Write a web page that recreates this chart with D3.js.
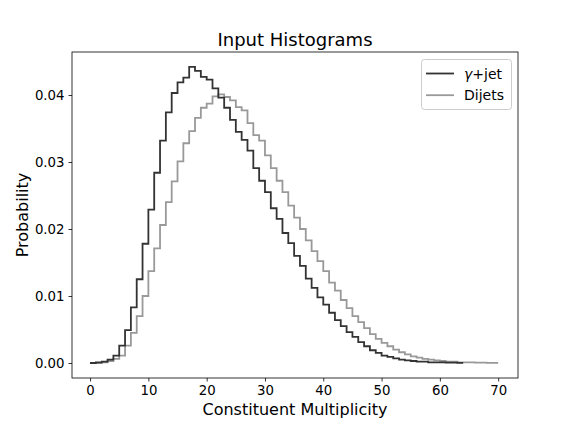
<!DOCTYPE html>
<html>
<head>
<meta charset="utf-8">
<title>Input Histograms</title>
<script src="https://d3js.org/d3.v7.min.js"></script>
<style>
  body { margin: 0; background: #fff; }
  svg text { font-family: "DejaVu Sans", sans-serif; fill: #000; }
</style>
</head>
<body>
<svg id="chart"></svg>
<script>
// bin edges 0..70, one value per bin
var binEdges = d3.range(0, 71);

var gammaJet = [
  0.0000, 0.0001, 0.0002, 0.0005, 0.0011, 0.0026, 0.0049, 0.0083, 0.0125, 0.0178,
  0.0229, 0.0284, 0.0332, 0.0374, 0.0403, 0.0419, 0.0426, 0.0442, 0.0436, 0.0427,
  0.0423, 0.0410, 0.0396, 0.0381, 0.0363, 0.0345, 0.0333, 0.0317, 0.0291, 0.0272,
  0.0255, 0.0231, 0.0215, 0.0194, 0.0179, 0.0160, 0.0145, 0.0126, 0.0112, 0.0098,
  0.0087, 0.0075, 0.0064, 0.0055, 0.0046, 0.0039, 0.0031, 0.0025, 0.0019, 0.0015,
  0.0011, 0.0009, 0.0007, 0.0005, 0.0004, 0.0003, 0.0002, 0.0002, 0.0001, 0.0001,
  0.0001, 0.00005, 0.00005, 0.00003
];

var dijets = [
  0.0000, 0.0000, 0.0001, 0.0003, 0.0006, 0.0011, 0.0026, 0.0045, 0.0070, 0.0100,
  0.0137, 0.0171, 0.0206, 0.0240, 0.0271, 0.0301, 0.0328, 0.0346, 0.0366, 0.0381,
  0.0387, 0.0398, 0.0401, 0.0397, 0.0392, 0.0382, 0.0377, 0.0358, 0.0340, 0.0332,
  0.0310, 0.0291, 0.0272, 0.0255, 0.0235, 0.0217, 0.0200, 0.0183, 0.0167, 0.0152,
  0.0137, 0.0120, 0.0108, 0.0094, 0.0082, 0.0070, 0.0061, 0.0052, 0.0043, 0.0036,
  0.0030, 0.0025, 0.0020, 0.0016, 0.0013, 0.0010, 0.0008, 0.0006, 0.0005, 0.0004,
  0.0003, 0.0002, 0.0002, 0.0001, 0.0001, 0.0001, 0.00005, 0.00005, 0.00003, 0.00002
];

var xTicks = [0, 10, 20, 30, 40, 50, 60, 70];
var yTicks = [0.00, 0.01, 0.02, 0.03, 0.04];

var svgWidth = 576, svgHeight = 432;
var plotLeft = 72, plotRight = 518, plotTop = 52, plotBottom = 378;

var svg = d3.select('#chart')
    .attr('width', svgWidth)
    .attr('height', svgHeight);

var xScale = d3.scaleLinear().domain([-3.1, 73.4]).range([plotLeft, plotRight]);
var yScale = d3.scaleLinear().domain([-0.00224, 0.04642]).range([plotBottom, plotTop]);

// step path: horizontal across each bin, vertical at each edge
function stepPoints(vals) {
    var pts = [];
    vals.forEach(function(v, i) {
        pts.push([binEdges[i], v]);
        pts.push([binEdges[i + 1], v]);
    });
    return pts;
}

var line = d3.line()
    .x(function(d) { return xScale(d[0]); })
    .y(function(d) { return yScale(d[1]); });

var series = [
    { name: 'jet', values: gammaJet, color: '#333333' },
    { name: 'Dijets', values: dijets, color: '#999999' }
];

// draw dijets first so gamma+jet lies on top
[series[1], series[0]].forEach(function(s) {
    svg.append('path')
        .attr('d', line(stepPoints(s.values)))
        .attr('fill', 'none')
        .attr('stroke', s.color)
        .attr('stroke-width', 1.8)
        .attr('stroke-linejoin', 'miter');
});

// axes
var xAxis = d3.axisBottom(xScale).tickValues(xTicks).tickSize(3.5).tickPadding(4.5)
    .tickFormat(d3.format('d'));
var yAxis = d3.axisLeft(yScale).tickValues(yTicks).tickSize(3.5).tickPadding(4)
    .tickFormat(d3.format('.2f'));

var gx = svg.append('g').attr('transform', 'translate(0,' + plotBottom + ')').call(xAxis);
var gy = svg.append('g').attr('transform', 'translate(' + plotLeft + ',0)').call(yAxis);
[gx, gy].forEach(function(g) {
    g.attr('font-family', null).attr('font-size', null);
    g.select('.domain').remove();
    g.selectAll('line').attr('stroke', '#000').attr('stroke-width', 0.8);
    g.selectAll('text').style('font-size', '13.3px').attr('fill', '#000');
});

// frame
svg.append('rect')
    .attr('x', plotLeft).attr('y', plotTop)
    .attr('width', plotRight - plotLeft).attr('height', plotBottom - plotTop)
    .attr('fill', 'none').attr('stroke', '#000').attr('stroke-width', 0.8);

// title and labels
svg.append('text')
    .attr('x', (plotLeft + plotRight) / 2).attr('y', 46)
    .attr('text-anchor', 'middle')
    .style('font-size', '18px')
    .text('Input Histograms');

svg.append('text')
    .attr('x', (plotLeft + plotRight) / 2).attr('y', 415)
    .attr('text-anchor', 'middle')
    .style('font-size', '16px')
    .text('Constituent Multiplicity');

svg.append('text')
    .attr('transform', 'translate(28,' + ((plotTop + plotBottom) / 2) + ') rotate(-90)')
    .attr('text-anchor', 'middle')
    .style('font-size', '16px')
    .text('Probability');

// legend
var legend = svg.append('g');
legend.append('rect')
    .attr('x', 421.5).attr('y', 59.5)
    .attr('width', 90).attr('height', 50)
    .attr('rx', 3)
    .attr('fill', '#fff').attr('fill-opacity', 0.8)
    .attr('stroke', '#cccccc').attr('stroke-width', 1);

series.forEach(function(s, i) {
    var y = 73.5 + i * 21.7;
    legend.append('line')
        .attr('x1', 426).attr('x2', 454)
        .attr('y1', y).attr('y2', y)
        .attr('stroke', s.color).attr('stroke-width', 1.8);
    var t = legend.append('text')
        .attr('x', 464).attr('y', y + 5)
        .style('font-size', '14px');
    if (i === 0) {
        t.append('tspan').style('font-style', 'italic').text('γ');
        t.append('tspan').text('+' + s.name);
    } else {
        t.text(s.name);
    }
});
</script>
</body>
</html>
